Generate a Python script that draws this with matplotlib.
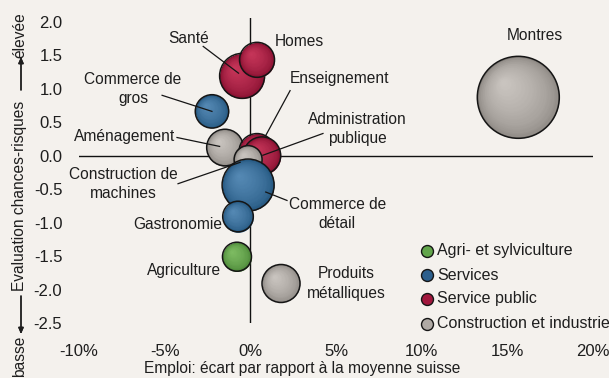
import matplotlib
matplotlib.use("Agg")
import matplotlib.pyplot as plt
import numpy as np
from matplotlib.transforms import offset_copy
from matplotlib.lines import Line2D
from matplotlib.colors import to_rgb

# ---------------- data ----------------
secteurs = ["Santé", "Homes", "Commerce de\ngros", "Aménagement", "Enseignement",
            "Administration\npublique", "Construction de\nmachines", "Commerce de\ndétail",
            "Gastronomie", "Agriculture", "Produits\nmétalliques", "Montres"]
emploi = [-0.48, 0.39, -2.24, -1.48, 0.39, 0.68, -0.13, -0.13, -0.72, -0.78, 1.79, 15.64]
risque = [1.19, 1.43, 0.66, 0.12, 0.06, 0.00, -0.06, -0.44, -0.91, -1.51, -1.91, 0.87]
taille = [22.5, 17.5, 16.7, 18.3, 18.0, 18.7, 14.0, 26.0, 15.3, 14.5, 19.0, 41.0]
groupe = ["Service public", "Service public", "Services", "Construction et industrie",
          "Service public", "Service public", "Construction et industrie", "Services",
          "Services", "Agri- et sylviculture", "Construction et industrie",
          "Construction et industrie"]
groupes = ["Agri- et sylviculture", "Services", "Service public", "Construction et industrie"]
xticks = [-10, -5, 0, 5, 10, 15, 20]
xticklabels = ["-10%", "-5%", "0%", "5%", "10%", "15%", "20%"]
yticks = [2.0, 1.5, 1.0, 0.5, 0.0, -0.5, -1.0, -1.5, -2.0, -2.5]

# ---------------- styles ----------------
W, H, DPI = 609, 378, 100
BG = "#f4f1ed"
TXT = "#1e1e1e"
FONT = ["Liberation Sans", "DejaVu Sans"]
plt.rcParams["font.family"] = FONT
shade = {
    "Agri- et sylviculture": ("#437f31", "#7dbb62", "#62a54b"),
    "Services": ("#1d5079", "#5488b3", "#2c5f8d"),
    "Service public": ("#7e0a2a", "#c53559", "#a1173d"),
    "Construction et industrie": ("#87827d", "#c9c4bf", "#b0aaa5"),
}
# label layout: (text x, text y, ha, leader start or None, leader fraction)
layout = {
    "Santé": (-3.62, 1.75, "center", (-2.75, 1.63), 0.2),
    "Homes": (1.44, 1.70, "left", None, 0),
    "Commerce de\ngros": (-6.85, 1.00, "center", (-5.15, 0.90), 0.0),
    "Aménagement": (-4.40, 0.28, "right", (-4.28, 0.27), 0.3),
    "Enseignement": (2.32, 1.15, "left", (2.32, 0.97), 1.0),
    "Administration\npublique": (6.25, 0.40, "center", (4.24, 0.33), 0.05),
    "Construction de\nmachines": (-7.43, -0.42, "center", (-4.22, -0.42), 0.6),
    "Commerce de\ndétail": (5.07, -0.87, "center", (2.14, -0.67), 0.73),
    "Gastronomie": (-1.62, -1.03, "right", None, 0),
    "Agriculture": (-1.68, -1.72, "right", None, 0),
    "Produits\nmétalliques": (5.59, -1.91, "center", None, 0),
    "Montres": (16.6, 1.79, "center", None, 0),
}

fig = plt.figure(figsize=(W / DPI, H / DPI), dpi=DPI, facecolor=BG)
ax_l, ax_r, ax_t, ax_b = 79, 593, 18.3, 323
ax = fig.add_axes([ax_l / W, 1 - ax_b / H, (ax_r - ax_l) / W, (ax_b - ax_t) / H])
ax.set_facecolor(BG)
ax.set_xlim(-10, 20)
ax.set_ylim(-2.5, 2.05)
for s in ax.spines.values():
    s.set_visible(False)
ax.axhline(0, color="#111111", lw=1.0, zorder=1)
ax.axvline(0, color="#111111", lw=1.0, zorder=1)
ax.set_xticks(xticks)
ax.set_xticklabels(xticklabels)
ax.set_yticks(yticks)
ax.set_yticklabels([f"{v:.1f}" for v in yticks])
ax.tick_params(axis="both", length=0, labelsize=12, colors=TXT)
ax.tick_params(axis="x", pad=15)
ax.tick_params(axis="y", pad=12)

px_x = (ax_r - ax_l) / 30.0
px_y = (ax_b - ax_t) / 4.55


def mix(c1, c2, t):
    a, b = np.array(to_rgb(c1)), np.array(to_rgb(c2))
    return tuple(a + (b - a) * t)


def sphere(x, y, r, grp, z):
    edge, light, _ = shade[grp]
    N = 28
    for k in range(N):
        t = k / (N - 1)
        rk = r * (1 - 0.93 * t)
        off = (r - rk) * 0.38
        col = mix(edge, light, t ** 0.5)
        tr = offset_copy(ax.transData, fig=fig, x=-off, y=off, units="dots")
        ax.scatter([x], [y], s=(2 * rk * 72 / DPI) ** 2, color=col, lw=0,
                   transform=tr, zorder=z + k * 1e-3, clip_on=False)
    ax.scatter([x], [y], s=(2 * r * 72 / DPI) ** 2, facecolor="none",
               edgecolor="#151515", lw=1.1, zorder=z + 0.05, clip_on=False)


for i, name in enumerate(secteurs):
    sphere(emploi[i], risque[i], taille[i], groupe[i], 2 + i * 0.1)

for i, name in enumerate(secteurs):
    tx, ty, ha, ls, frac = layout[name]
    ax.text(tx, ty, name, ha=ha, va="center", fontsize=11.2, color=TXT,
            linespacing=1.35, zorder=10)
    if ls is not None:
        cx, cy = emploi[i], risque[i]
        dxp = (ls[0] - cx) * px_x
        dyp = (ls[1] - cy) * px_y
        d = np.hypot(dxp, dyp)
        ex = cx + dxp / d * taille[i] * frac / px_x
        ey = cy + dyp / d * taille[i] * frac / px_y
        ax.plot([ls[0], ex], [ls[1], ey], color="#151515", lw=0.9, zorder=9,
                clip_on=False)

# legend
leg_y = [251, 275, 299, 324]
for g, yy in zip(groupes, leg_y):
    fig.add_artist(Line2D([427 / W], [1 - yy / H], transform=fig.transFigure,
                          marker="o", markersize=8.6, markerfacecolor=shade[g][2],
                          markeredgecolor="#151515", markeredgewidth=1.0, ls="none"))
    fig.text(437 / W, 1 - yy / H, g, ha="left", va="center", fontsize=11.5,
             color=TXT)

# axis labels
fig.text(302 / W, 1 - 369 / H, "Emploi: écart par rapport à la moyenne suisse",
         ha="center", va="center", fontsize=11.2, color=TXT)
fig.text(20 / W, 1 - 356 / H, "basse", rotation=90, ha="center", va="center",
         fontsize=11.2, color=TXT)
fig.text(20 / W, 1 - 196 / H, "Evaluation chances-risques", rotation=90,
         ha="center", va="center", fontsize=11.2, color=TXT)
fig.text(20 / W, 1 - 35 / H, "élevée", rotation=90, ha="center", va="center",
         fontsize=11.2, color=TXT)
arrow = dict(arrowstyle="-|>,head_length=0.35,head_width=0.15", color=TXT,
             lw=1.0, shrinkA=0, shrinkB=0)
fig.add_artist(plt.annotate("", xy=(21 / W, 1 - 334 / H), xytext=(21 / W, 1 - 296 / H),
                            xycoords="figure fraction", textcoords="figure fraction",
                            arrowprops=arrow))
fig.add_artist(plt.annotate("", xy=(21 / W, 1 - 57 / H), xytext=(21 / W, 1 - 90 / H),
                            xycoords="figure fraction", textcoords="figure fraction",
                            arrowprops=arrow))

fig.savefig("out.png", dpi=DPI, facecolor=BG)
